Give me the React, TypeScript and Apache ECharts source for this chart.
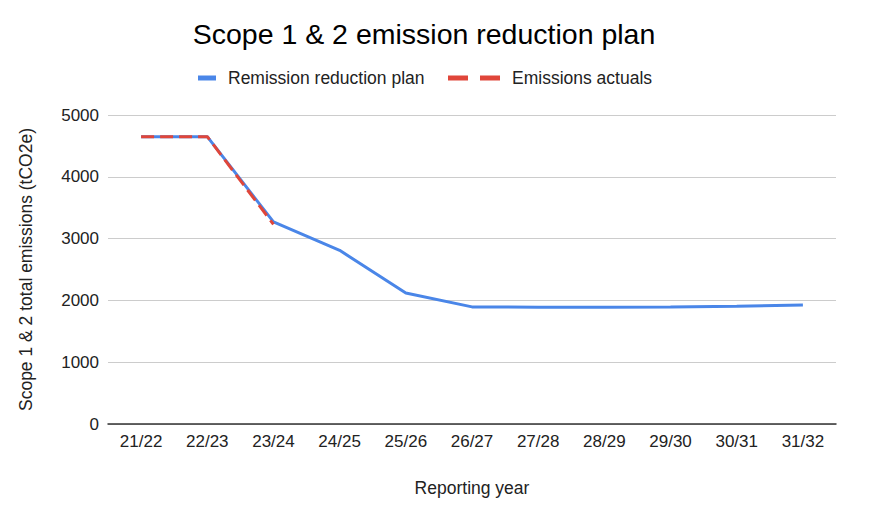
import React, { useEffect, useRef } from "react";
import * as echarts from "echarts";

const categories = ["21/22", "22/23", "23/24", "24/25", "25/26", "26/27", "27/28", "28/29", "29/30", "30/31", "31/32"];
const planValues = [4650, 4650, 3270, 2810, 2120, 1895, 1890, 1890, 1895, 1905, 1925];
const actualValues = [4650, 4650, 3230, null, null, null, null, null, null, null, null];
const planName = "Remission reduction plan";
const actualName = "Emissions actuals";

export default function App() {
  const ref = useRef<HTMLDivElement>(null);
  useEffect(() => {
    if (!ref.current) return;
    const chart = echarts.init(ref.current, null, { renderer: "svg" });
    const font = "Liberation Sans, Arial, sans-serif";
    chart.setOption({
      animation: false,
      backgroundColor: "#ffffff",
      title: {
        text: "Scope 1 & 2 emission reduction plan",
        left: 419,
        top: 14,
        textAlign: "center",
        textStyle: { fontFamily: font, fontSize: 28.5, fontWeight: "normal", color: "#000" },
      },
      legend: [
        {
          data: [planName],
          left: 193,
          top: 64,
          icon: "rect",
          itemWidth: 18,
          itemHeight: 5,
          textStyle: { fontFamily: font, fontSize: 17.5, color: "#222", padding: [0, 0, 0, 7] },
        },
        {
          data: [actualName],
          left: 443,
          top: 64,
          icon: "path://M0,0h20v5h-20z M32,0h20v5h-20z",
          itemWidth: 52,
          itemHeight: 5,
          textStyle: { fontFamily: font, fontSize: 17.5, color: "#222", padding: [0, 0, 0, 7] },
        },
      ],
      grid: { left: 108, right: 54, top: 115, bottom: 98, containLabel: false },
      xAxis: {
        type: "category",
        data: categories,
        boundaryGap: true,
        name: "Reporting year",
        nameLocation: "middle",
        nameGap: 55,
        nameTextStyle: { fontFamily: font, fontSize: 17.5, color: "#222" },
        axisLine: { lineStyle: { color: "#333", width: 1.5 } },
        axisTick: { show: false },
        axisLabel: { fontFamily: font, fontSize: 17, color: "#222", margin: 9 },
      },
      yAxis: {
        type: "value",
        min: 0,
        max: 5000,
        interval: 1000,
        name: "Scope 1 & 2 total emissions (tCO2e)",
        nameLocation: "middle",
        nameGap: 73,
        nameTextStyle: { fontFamily: font, fontSize: 17.5, color: "#222" },
        axisLine: { show: false },
        axisTick: { show: false },
        axisLabel: { fontFamily: font, fontSize: 17, color: "#222", margin: 9, formatter: (v: number) => String(v) },
        splitLine: { lineStyle: { color: "#cccccc", width: 1 } },
      },
      series: [
        {
          name: planName,
          type: "line",
          data: planValues,
          symbol: "none",
          color: "#4a86e8",
          lineStyle: { color: "#4a86e8", width: 3 },
        },
        {
          name: actualName,
          type: "line",
          data: actualValues,
          symbol: "none",
          color: "#e0463a",
          lineStyle: { color: "#e0463a", width: 3, type: [13, 6] },
        },
      ],
    });
    return () => chart.dispose();
  }, []);
  return <div ref={ref} style={{ position: "fixed", left: 0, top: 0, width: 890, height: 522 }} />;
}
